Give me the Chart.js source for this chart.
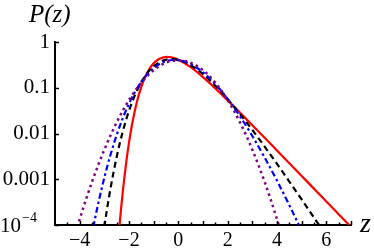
<!DOCTYPE html>
<html><head><meta charset="utf-8">
<script src="https://cdn.jsdelivr.net/npm/chart.js@4/dist/chart.umd.min.js"></script>
<style>html,body{margin:0;padding:0;background:#fff}canvas{display:block}</style>
</head><body>
<canvas id="c" width="374" height="251"></canvas>
<script>
const xTicks = [-4, -2, 0, 2, 4, 6];
const xTickLabels = ['\u22124', '\u22122', '0', '2', '4', '6'];
const yTicks = [1, 0.1, 0.01, 0.001, 0.0001];
const yTickLabels = ['1', '0.1', '0.01', '0.001', ''];

const zRed = [-2.39,-2.38,-2.3,-2.2,-2.1,-2.0,-1.9,-1.8,-1.65,-1.5,-1.35,-1.2,-1.0,-0.8,-0.6,-0.45,-0.3,-0.2,0,0.5,1,1.5,2,3,4,5,6,7];
const pRed = [9.1e-5,1.05e-4,3.0e-4,9.6e-4,2.65e-3,6.3e-3,0.0134,0.0254,0.0566,0.105,0.1705,0.245,0.343,0.419,0.4626,0.472,0.4637,0.451,0.411,0.282,0.171,0.097,0.053,0.0152,0.00424,0.00118,3.28e-4,9.07e-5];

const zBlack = [-3.0,-2.9,-2.75,-2.5,-2.25,-2,-1.75,-1.5,-1.25,-1,-0.75,-0.5,-0.25,0,0.25,0.5,0.75,1,1.5,2,2.5,3,3.5,4,4.5,5,5.5,5.75];
const pBlack = [9.07e-5,2.06e-4,6.29e-4,3.07e-3,0.01116,0.0313,0.0708,0.1327,0.2116,0.2949,0.3653,0.4098,0.4221,0.4042,0.3637,0.3104,0.2531,0.1985,0.1111,0.0564,0.0267,0.01195,5.16e-3,2.17e-3,8.92e-4,3.62e-4,1.45e-4,9.2e-5];

const zBlue = [-3.45,-3.25,-3,-2.75,-2.5,-2.25,-2,-1.75,-1.5,-1.25,-1,-0.75,-0.5,-0.25,0,0.25,0.5,0.75,1,1.5,2,2.5,3,3.5,4,4.5,4.9];
const pBlue = [8.99e-5,2.92e-4,1.085e-3,3.42e-3,9.23e-3,0.0217,0.0449,0.0821,0.1347,0.1995,0.269,0.3329,0.3806,0.4037,0.4005,0.3734,0.3283,0.2739,0.2176,0.1202,0.057,0.0237,8.81e-3,2.98e-3,9.3e-4,2.71e-4,9.7e-5];

const zPurple = [-4.1,-3.75,-3.5,-3.25,-3,-2.75,-2.5,-2.25,-2,-1.75,-1.5,-1.25,-1,-0.75,-0.5,-0.25,0,0.25,0.5,0.75,1,1.25,1.5,1.75,2,2.25,2.5,2.75,3,3.25,3.5,3.75,4.1];
const pPurple = [8.93e-5,3.53e-4,8.73e-4,2.03e-3,4.43e-3,9.07e-3,0.01753,0.03174,0.05399,0.08628,0.1295,0.1826,0.242,0.3011,0.3521,0.3867,0.3989,0.3867,0.3521,0.3011,0.242,0.1826,0.1295,0.08628,0.05399,0.03174,0.01753,9.07e-3,4.43e-3,2.03e-3,8.73e-4,3.53e-4,8.93e-5];

const pts = (xs, ys) => xs.map((x, i) => ({x: x, y: ys[i]}));
const SERIF = '"Liberation Serif", "DejaVu Serif", serif';

const ds = (label, xs, ys, color, dash, w, cap) => ({
  label, data: pts(xs, ys), borderColor: color, borderWidth: w, borderDash: dash,
  borderCapStyle: cap || 'butt', pointRadius: 0, fill: false, showLine: true,
  cubicInterpolationMode: 'monotone', clip: 0
});

const decor = {
  id: 'decor',
  afterDraw(chart) {
    const ctx = chart.ctx, xs = chart.scales.x, ys = chart.scales.y;
    const L = xs.left, B = ys.bottom;
    ctx.save();
    ctx.strokeStyle = '#000'; ctx.lineWidth = 1.5;
    ctx.beginPath();
    for (let v = -4.5; v <= 7.01; v += 0.5) {
      const px = Math.round(xs.getPixelForValue(v)) + 0.5;
      const len = Number.isInteger(v) ? 4 : 2.5;
      ctx.moveTo(px, B); ctx.lineTo(px, B - len);
    }
    yTicks.forEach(v => {
      const py = Math.round(ys.getPixelForValue(v)) + 0.5;
      ctx.moveTo(L, py); ctx.lineTo(L + 4, py);
    });
    ctx.stroke();
    ctx.fillStyle = '#000';
    // 10^-4 label
    const py4 = ys.getPixelForValue(0.0001);
    ctx.textBaseline = 'middle';
    ctx.textAlign = 'left';
    ctx.font = '21px ' + SERIF;
    ctx.fillText('10', 0, py4 + 1);
    ctx.font = '14px ' + SERIF;
    ctx.fillText('\u22124', 22, py4 - 7);
    // axis titles
    ctx.font = 'italic 25px ' + SERIF;
    ctx.textBaseline = 'alphabetic';
    ctx.fillText('P(z)', 29, 22);
    ctx.font = 'italic 28px ' + SERIF;
    ctx.fillText('z', 360, 232);
    ctx.restore();
  }
};

new Chart(document.getElementById('c'), {
  type: 'scatter',
  data: { datasets: [
    ds('Gaussian', zPurple, pPurple, '#800080', [2.5, 3.5], 2.5),
    ds('a=10', zBlue, pBlue, '#0000ff', [6, 3, 2.5, 3], 2.2),
    ds('a=3', zBlack, pBlack, '#000000', [6, 4], 2.2),
    ds('Gumbel', zRed, pRed, '#ff0000', [], 2.2)
  ]},
  options: {
    responsive: false, animation: false, devicePixelRatio: 1,
    layout: { padding: { top: 42, right: 23, left: 0, bottom: 0 } },
    plugins: { legend: { display: false }, tooltip: { enabled: false } },
    scales: {
      x: {
        type: 'linear', min: -5, max: 7,
        afterFit(s) { s.height = 26; },
        afterBuildTicks(s) { s.ticks = xTicks.map(v => ({value: v})); },
        grid: { display: false, drawTicks: false },
        border: { display: true, color: '#000', width: 2 },
        ticks: {
          autoSkip: false, maxRotation: 0, padding: 4, color: '#000',
          font: { family: SERIF, size: 20 },
          callback: (v) => { const i = xTicks.indexOf(v); return i >= 0 ? xTickLabels[i] : ''; }
        }
      },
      y: {
        type: 'logarithmic', min: 0.0001, max: 1,
        afterFit(s) { s.width = 55; },
        afterBuildTicks(s) { s.ticks = yTicks.map(v => ({value: v})); },
        grid: { display: false, drawTicks: false },
        border: { display: true, color: '#000', width: 2 },
        ticks: {
          autoSkip: false, padding: 5, color: '#000',
          font: { family: SERIF, size: 21 },
          callback: (v) => { const i = yTicks.findIndex(t => Math.abs(t - v) < t * 1e-6); return i >= 0 ? yTickLabels[i] : ''; }
        }
      }
    }
  },
  plugins: [decor]
});
</script>
</body></html>
